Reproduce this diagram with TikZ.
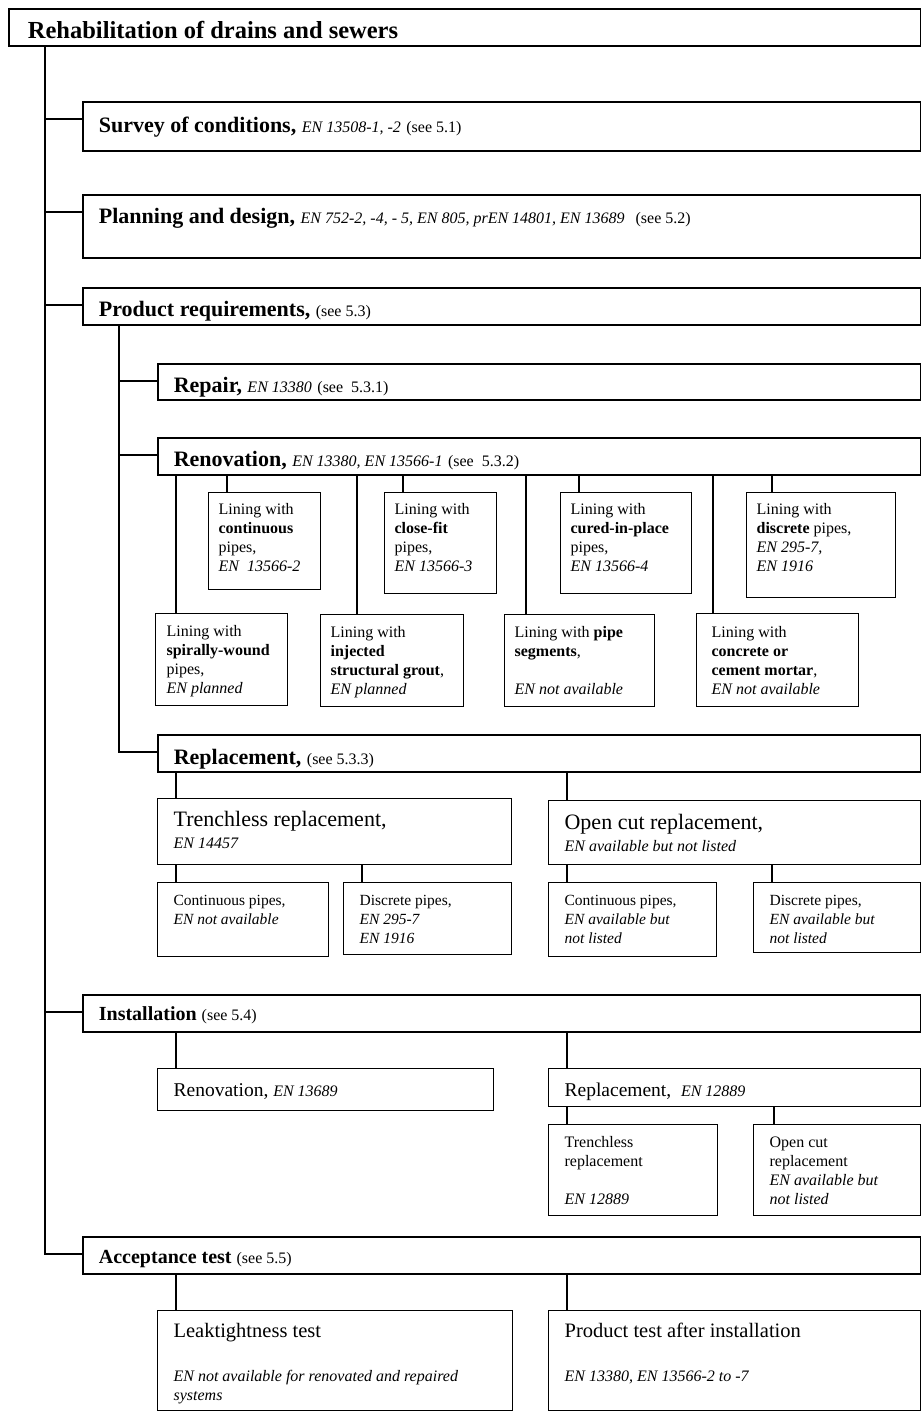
\documentclass[tikz,border=0pt]{standalone}
\usepackage{fontspec}
\setmainfont{Liberation Serif}
\newcommand{\stdref}[1]{{\fontsize{16}{19}\selectfont\itshape #1}}
\newcommand{\seeref}[1]{{\fontsize{16}{19}\selectfont #1}}

\begin{document}
\begin{tikzpicture}[
  x=1pt, y=-1pt,
  mainbox/.style={draw, line width=1.8pt, anchor=north west, align=flush left, inner xsep=16pt, inner ysep=0pt, text width=806pt, font=\fontsize{22}{26}\selectfont},
  subbox/.style={draw, line width=1.5pt, anchor=north west, align=flush left, inner xsep=16pt, inner ysep=0pt, text width=731pt, font=\fontsize{22}{26}\selectfont},
  smallbox/.style={draw, line width=1.2pt, anchor=north west, align=flush left, inner xsep=10pt, inner ysep=0pt, font=\fontsize{16}{19}\selectfont},
  pipebox/.style={smallbox, inner xsep=16pt, font=\fontsize{15.5}{19}\selectfont},
  trunk/.style={line width=1.8pt},
  link/.style={line width=1.2pt}
]
  \useasboundingbox (0,0) rectangle (921,1411);

  % Nodes
  \node[mainbox, text width=874pt, inner xsep=19pt, font=\fontsize{24.5}{28}\selectfont\bfseries, text height=30pt, text depth=7pt] (title) at (8,8) {Rehabilitation of drains and sewers};

  \node[mainbox, text height=31pt, text depth=18pt] (survey) at (82,101) {\textbf{Survey of conditions,} \stdref{EN 13508-1, -2} \seeref{(see 5.1)}};
  \node[mainbox, text height=29pt, text depth=34pt] (plan) at (82,194) {\textbf{Planning and design,} \stdref{EN 752-2, -4, - 5, EN 805, prEN 14801, EN 13689}~ \seeref{(see 5.2)}};
  \node[mainbox, text height=29pt, text depth=8pt] (prod) at (82,287) {\textbf{Product requirements,} \seeref{(see 5.3)}};

  \node[subbox, text height=29pt, text depth=7pt] (repair) at (157,363) {\textbf{Repair,} \stdref{EN 13380} \seeref{(see~ 5.3.1)}};
  \node[subbox, text height=29pt, text depth=8pt] (renov) at (157,437) {\textbf{Renovation,} \stdref{EN 13380, EN 13566-1} \seeref{(see~ 5.3.2)}};

  \node[smallbox, text width=92pt, text height=22pt, text depth=75pt] (lcont) at (208,492) {Lining with\\ \textbf{continuous}\\ pipes,\\ \textit{EN~ 13566-2}};
  \node[smallbox, text width=92pt, text height=22pt, text depth=79pt] (lclose) at (384,492) {Lining with\\ \textbf{close-fit}\\ pipes,\\ \textit{EN 13566-3}};
  \node[smallbox, text width=111pt, text height=22pt, text depth=79pt] (lcip) at (560,492) {Lining with\\ \textbf{cured-in-place}\\ pipes,\\ \textit{EN 13566-4}};
  \node[smallbox, text width=129pt, text height=22pt, text depth=83pt] (ldisc) at (746,492) {Lining with\\ \textbf{discrete} pipes,\\ \textit{EN 295-7,}\\ \textit{EN 1916}};
  \node[smallbox, text width=110pt, inner xsep=11pt, text height=23pt, text depth=69pt] (lspiral) at (155,613) {Lining with\\ \textbf{spirally-wound}\\ pipes,\\ \textit{EN planned}};
  \node[smallbox, text width=123pt, text height=23pt, text depth=69pt] (lgrout) at (320,614) {Lining with\\ \textbf{injected}\\ \textbf{structural grout},\\ \textit{EN planned}};
  \node[smallbox, text width=130pt, text height=23pt, text depth=69pt] (lseg) at (504,614) {Lining with \textbf{pipe}\\ \textbf{segments},\\[19pt] \textit{EN not available}};
  \node[smallbox, text width=132pt, inner xsep=15pt, text height=24pt, text depth=69pt] (lconc) at (696,613) {Lining with\\ \textbf{concrete or}\\ \textbf{cement mortar},\\ \textit{EN not available}};

  \node[subbox, text height=30pt, text depth=7pt] (repl) at (157,734) {\textbf{Replacement,} \seeref{(see 5.3.3)}};
  \node[smallbox, inner xsep=16pt, text width=322pt, font=\fontsize{22}{22}\selectfont, text height=28pt, text depth=38pt] (trless) at (157,798) {Trenchless replacement,\\ \stdref{EN 14457}};
  \node[smallbox, inner xsep=16pt, text width=340pt, font=\fontsize{22}{22}\selectfont, text height=29pt, text depth=35pt] (opencut) at (548,800) {Open cut replacement,\\ \stdref{EN available but not listed}};
  \node[pipebox, text width=139pt, text height=23pt, text depth=51pt] (tcont) at (157,882) {Continuous pipes,\\ \textit{EN not available}};
  \node[pipebox, text width=136pt, text height=23pt, text depth=49pt] (tdisc) at (343,882) {Discrete pipes,\\ \textit{EN 295-7}\\ \textit{EN 1916}};
  \node[pipebox, text width=136pt, text height=23pt, text depth=51pt] (ocont) at (548,882) {Continuous pipes,\\ \textit{EN available but}\\ \textit{not listed}};
  \node[pipebox, text width=135pt, text height=23pt, text depth=47pt] (odisc) at (753,882) {Discrete pipes,\\ \textit{EN available but}\\ \textit{not listed}};

  \node[mainbox, font=\fontsize{20}{24}\selectfont, text height=26pt, text depth=11pt] (inst) at (82,994) {\textbf{Installation} \seeref{(see 5.4)}};
  \node[smallbox, inner xsep=16pt, text width=304pt, font=\fontsize{19.5}{22}\selectfont, text height=28pt, text depth=14pt] (irenov) at (157,1068) {Renovation, \stdref{EN 13689}};
  \node[smallbox, inner xsep=16pt, text width=340pt, font=\fontsize{19.5}{22}\selectfont, text height=28pt, text depth=10pt] (irepl) at (548,1068) {Replacement,~ \stdref{EN 12889}};
  \node[pipebox, font=\fontsize{16}{19}\selectfont, text width=137pt, text height=23pt, text depth=68pt] (itrless) at (548,1124) {Trenchless\\ replacement\\[19pt] \textit{EN 12889}};
  \node[pipebox, font=\fontsize{16}{19}\selectfont, text width=135pt, text height=23pt, text depth=68pt] (iopen) at (753,1124) {Open cut\\ replacement\\ \textit{EN available but}\\ \textit{not listed}};

  \node[mainbox, font=\fontsize{20}{24}\selectfont, text height=27pt, text depth=10pt] (accept) at (82,1236) {\textbf{Acceptance test} \seeref{(see 5.5)}};
  \node[smallbox, inner xsep=16pt, text width=323pt, font=\fontsize{20.5}{19}\selectfont, text height=27pt, text depth=73pt] (leak) at (157,1310) {Leaktightness test\\[25pt] \stdref{EN not available for renovated and repaired}\\ \stdref{systems}};
  \node[smallbox, inner xsep=16pt, text width=340pt, font=\fontsize{20.5}{19}\selectfont, text height=27pt, text depth=73pt] (ptest) at (548,1310) {Product test after installation\\[25pt] \stdref{EN 13380, EN 13566-2 to -7}};

  % Lines
  \coordinate (spine) at ([xshift=37pt]title.south west);
  \coordinate (subspine) at ([xshift=37pt]prod.south west);
  \foreach \n in {survey,plan,prod,inst,accept}
    \draw[trunk] ([yshift=-18pt]\n.north west) -| (spine);
  \foreach \n in {repair,renov,repl}
    \draw[link] ([yshift=-18pt]\n.north west) -| (subspine);
  \foreach \pa/\ch/\dx in {renov/lcont/19, renov/lclose/19, renov/lcip/19, renov/ldisc/26,
      renov/lspiral/21, renov/lgrout/37, renov/lseg/22, renov/lconc/17,
      repl/trless/19, repl/opencut/19, trless/tcont/19, trless/tdisc/19,
      opencut/ocont/19, opencut/odisc/19, inst/irenov/19, inst/irepl/19,
      irepl/itrless/19, irepl/iopen/21, accept/leak/19, accept/ptest/19} {
    \coordinate (top) at ([xshift=\dx pt]\ch.north west);
    \draw[link] (top) -- (top |- \pa.south);
  }

\end{tikzpicture}
\end{document}
